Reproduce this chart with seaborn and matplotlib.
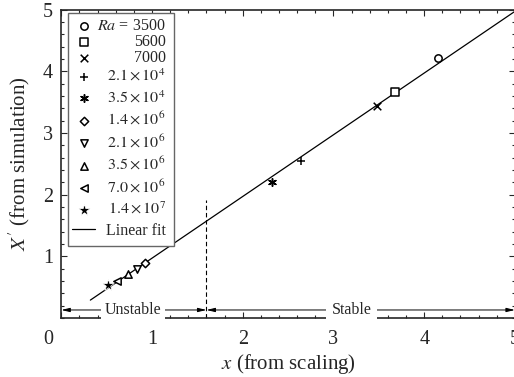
import matplotlib
matplotlib.use("Agg")
import matplotlib.pyplot as plt
import seaborn as sns
from matplotlib.ticker import MultipleLocator
from matplotlib.offsetbox import DrawingArea
from matplotlib.transforms import ScaledTranslation

# ---- data ----
ra_labels = [r"$\mathit{Ra}$ = 3500", "5600", "7000",
             r"$2.1\times10^{4}$", r"$3.5\times10^{4}$",
             r"$1.4\times10^{6}$", r"$2.1\times10^{6}$", r"$3.5\times10^{6}$",
             r"$7.0\times10^{6}$", r"$1.4\times10^{7}$"]
x_scaling = [4.15, 3.68, 3.48, 2.64, 2.32, 0.92, 0.83, 0.73, 0.61, 0.51]
x_sim = [4.21, 3.67, 3.44, 2.55, 2.21, 0.89, 0.79, 0.71, 0.60, 0.54]
markers = ["o", "s", "x", "+", (6, 2, 0), "D", "v", "^", "<", "*"]
fit_x = [0.32, 5.0]
fit_y = [0.29, 4.97]
boundary_x = 1.6
boundary_top = 1.92
xticks = [0, 1, 2, 3, 4, 5]
yticks = [1, 2, 3, 4, 5]

sns.set_style("ticks")
plt.rcParams["font.family"] = ["Liberation Serif", "DejaVu Serif"]
plt.rcParams["mathtext.fontset"] = "stix"

fig = plt.figure(figsize=(5.14, 3.77), dpi=100)
ax = fig.add_axes([0.1193, 0.1565, 0.8825, 0.8183])

open_markers = {"o", "s", "D", "v", "^", "<"}
for lab, xv, yv, m in zip(ra_labels, x_scaling, x_sim, markers):
    if m in open_markers:
        kw = dict(facecolor="white", edgecolor="black", linewidth=1.1, s=28)
    elif m == "*":
        kw = dict(color="black", linewidth=0.5, s=75)
    else:
        kw = dict(color="black", linewidth=1.1, s=30)
    if m == "D":
        kw["s"] = 18
    sns.scatterplot(x=[xv], y=[yv], marker=m, label=lab, ax=ax, zorder=3, **kw)

sns.lineplot(x=fit_x, y=fit_y, color="black", linewidth=0.9, ax=ax,
             label="Linear fit", zorder=2)

ax.plot([boundary_x, boundary_x], [0, boundary_top], color="black",
        linestyle=(0, (4, 2.5)), linewidth=0.8)

# region arrows
ya = 0.13
ax.annotate("", xy=(0.0, ya), xytext=(boundary_x, ya),
            arrowprops=dict(arrowstyle="<|-|>,head_length=0.5,head_width=0.12",
                            color="black", lw=0.7, shrinkA=0, shrinkB=0))
ax.annotate("", xy=(boundary_x, ya), xytext=(5.0, ya),
            arrowprops=dict(arrowstyle="<|-|>,head_length=0.5,head_width=0.12",
                            color="black", lw=0.7, shrinkA=0, shrinkB=0))
ax.text(0.79, ya, "Unstable", ha="center", va="center", fontsize=11.5,
        bbox=dict(facecolor="white", edgecolor="none", pad=3))
ax.text(3.2, ya, "Stable", ha="center", va="center", fontsize=11.5,
        bbox=dict(facecolor="white", edgecolor="none", pad=4))

ax.set_xlim(0, 5)
ax.set_ylim(0, 5)
ax.set_xticks(xticks)
ax.set_yticks(yticks)
ax.xaxis.set_minor_locator(MultipleLocator(0.2))
ax.yaxis.set_minor_locator(MultipleLocator(0.2))
ax.tick_params(which="both", direction="in", top=True, right=True,
               labelsize=14.5, width=0.8)
ax.tick_params(which="major", length=4.5)
ax.tick_params(axis="x", which="major", pad=9)
ax.tick_params(axis="y", which="major", pad=6)
ax.tick_params(which="minor", length=2)
for sp in ax.spines.values():
    sp.set_linewidth(1.2)
    sp.set_visible(True)

# origin label sits left of the axis corner
lab0 = ax.get_xticklabels()[0]
lab0.set_transform(lab0.get_transform() +
                   ScaledTranslation(-0.13, 0, fig.dpi_scale_trans))

ax.set_xlabel(r"$x$ (from scaling)", fontsize=15, labelpad=2)
ax.set_ylabel(r"$X'$ (from simulation)", fontsize=15, labelpad=8)

leg = ax.legend(loc="upper left", bbox_to_anchor=(0.014, 0.988),
                fontsize=11.5, frameon=True, fancybox=False,
                edgecolor="#666666", framealpha=1, borderaxespad=0,
                labelspacing=0.0, handlelength=1.4, handletextpad=0.08,
                borderpad=0.3)
leg.get_frame().set_linewidth(1.0)

# right-align the legend labels and give the exponent rows more room
fig.canvas.draw()
renderer = fig.canvas.get_renderer()
texts = leg.get_texts()
widths = [t.get_window_extent(renderer).width for t in texts]
maxw = max(widths)
px2pt = 72.0 / fig.dpi
rows = leg._legend_handle_box.get_children()[0].get_children()
for i, (hp, w) in enumerate(zip(rows, widths)):
    ta = hp.get_children()[1]
    bb = ta.get_bbox(renderer)
    extra = 0.0 if i < 3 else 2.6
    pad = (maxw - w) * px2pt
    spacer = DrawingArea(pad, (bb.height + 2 * extra) * px2pt, 0,
                         (-bb.y0 + extra) * px2pt)
    hp.get_children().insert(1, spacer)
    hp.get_children().append(DrawingArea(1.5, 1))

fig.savefig("out.png", dpi=100)
